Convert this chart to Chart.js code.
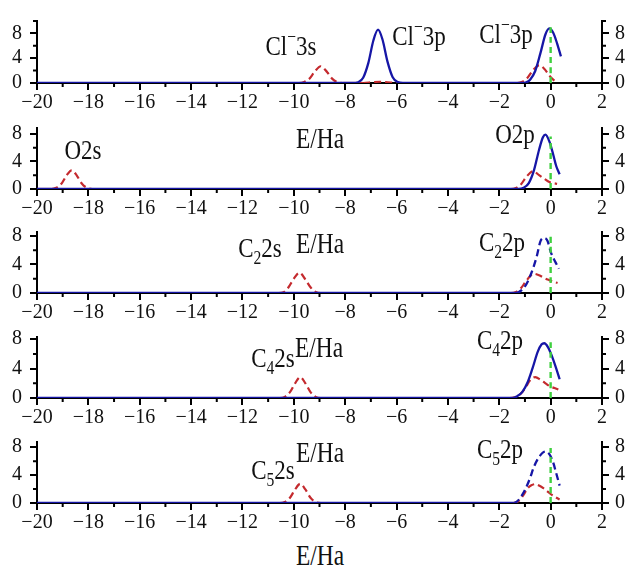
<!DOCTYPE html>
<html><head><meta charset="utf-8">
<script src="https://cdn.jsdelivr.net/npm/chart.js@4.4.0/dist/chart.umd.min.js"></script>
<style>
html,body{margin:0;padding:0;background:#fff;}
#wrap{position:relative;width:640px;height:572px;overflow:hidden;background:#fff;}
canvas{position:absolute;left:0;}
.lb{position:absolute;font-family:"Liberation Serif","DejaVu Serif",serif;font-size:25px;color:#111;white-space:nowrap;transform:translate(-50%,-50%) scale(0.92,1.12);line-height:1;z-index:5;}
.lb .sp{font-size:17px;position:relative;top:-10px;}
.lb .sb{font-size:17px;position:relative;top:7px;}
.ax{font-size:26px;transform:translate(-50%,-50%) scale(0.9,1.12);}
</style></head>
<body><div id="wrap">
<div class="lb" style="left:291px;top:45px">Cl<span class="sp">−</span>3s</div>
<div class="lb" style="left:419px;top:35px">Cl<span class="sp">−</span>3p</div>
<div class="lb" style="left:506px;top:33px">Cl<span class="sp">−</span>3p</div>
<div class="lb" style="left:83px;top:149px">O2s</div>
<div class="lb ax" style="left:320px;top:139px">E/Ha</div>
<div class="lb" style="left:515px;top:133px">O2p</div>
<div class="lb" style="left:260px;top:247px">C<span class="sb">2</span>2s</div>
<div class="lb ax" style="left:320px;top:244px">E/Ha</div>
<div class="lb" style="left:502px;top:241px">C<span class="sb">2</span>2p</div>
<div class="lb" style="left:273px;top:357px">C<span class="sb">4</span>2s</div>
<div class="lb ax" style="left:319px;top:348px">E/Ha</div>
<div class="lb" style="left:500px;top:339px">C<span class="sb">4</span>2p</div>
<div class="lb" style="left:273px;top:469px">C<span class="sb">5</span>2s</div>
<div class="lb ax" style="left:320px;top:453px">E/Ha</div>
<div class="lb" style="left:500px;top:448px">C<span class="sb">5</span>2p</div>
<div class="lb ax" style="left:320px;top:556px">E/Ha</div>
</div>
<script>
// ---- data ----
const xTicks = [-20,-18,-16,-14,-12,-10,-8,-6,-4,-2,0,2];
const xTickLabels = ['−20','−18','−16','−14','−12','−10','−8','−6','−4','−2','0','2'];
const xMinor = [-19,-17,-15,-13,-11,-9,-7,-5,-3,-1,1];
const yTicks = [0,4,8];
const yTickLabels = ['0','4','8'];
const yMinor = [2,6,10];

// Cl- panel
const clBlueE = [-20,-7.7,-7.5,-7.3,-7.1,-6.9,-6.72,-6.55,-6.35,-6.15,-5.95,-5.75,-1.1,-0.95,-0.8,-0.6,-0.4,-0.2,-0.05,0.1,0.25,0.4];
const clBlueD = [0,0,0.13,0.85,3.2,6.9,8.6,7.05,3.4,0.93,0.15,0,0,0.1,0.53,1.94,4.77,7.86,8.8,8.1,6.4,4.3];
const clRedE = [-20,-9.8,-9.6,-9.4,-9.2,-8.95,-8.7,-8.5,-8.3,-8.1,-7.3,-6.95,-6.65,-6.35,-6.0,-1.3,-1.1,-0.9,-0.7,-0.44,-0.25,-0.05,0.1,0.25];
const clRedD = [0,0,0.15,0.67,1.75,2.7,1.75,0.67,0.15,0,0,0.12,0.2,0.12,0,0,0.2,0.85,2.0,2.85,2.3,1.2,0.55,0.1];
// O panel
const oBlueE = [-20,-1.25,-1.05,-0.85,-0.65,-0.45,-0.3,-0.2,-0.05,0.1,0.22,0.35];
const oBlueD = [0,0,0.18,0.86,2.7,5.7,7.5,7.9,6.9,5.0,3.3,2.15];
const oRedE = [-20,-19.45,-19.25,-19.05,-18.85,-18.65,-18.45,-18.25,-18.05,-17.85,-1.55,-1.35,-1.15,-0.95,-0.68,-0.45,-0.25,-0.05,0.1,0.25];
const oRedD = [0,0,0.17,0.75,1.95,2.7,1.95,0.75,0.17,0,0,0.15,0.7,1.75,2.6,2.0,1.5,1.0,0.85,0.75];
// C2 panel
const c2BlueE = [-20,-1.35,-1.15,-0.95,-0.75,-0.55,-0.38,-0.25,-0.12,0.0,0.12,0.22,0.32];
const c2BlueD = [0,0,0.35,1.2,2.8,5.0,7.4,7.7,7.3,5.8,4.8,4.1,3.4];
const c2RedE = [-20,-10.6,-10.4,-10.2,-10.0,-9.78,-9.55,-9.35,-9.15,-8.95,-1.55,-1.35,-1.15,-0.95,-0.66,-0.45,-0.25,-0.05,0.1,0.27];
const c2RedD = [0,0,0.12,0.84,2.0,2.85,1.9,0.8,0.15,0,0,0.15,0.7,1.7,2.7,2.5,2.1,1.8,1.6,1.4];
// C4 panel
const c4BlueE = [-20,-1.5,-1.3,-1.1,-0.9,-0.7,-0.5,-0.35,-0.25,-0.1,0.05,0.2,0.35];
const c4BlueD = [0,0,0.25,0.83,2.1,4.1,6.3,7.3,7.45,6.9,5.7,4.2,2.55];
const c4RedE = [-20,-10.55,-10.35,-10.15,-9.95,-9.75,-9.55,-9.35,-9.15,-8.95,-1.6,-1.4,-1.2,-1.0,-0.8,-0.6,-0.4,-0.2,0.0,0.15,0.3];
const c4RedD = [0,0,0.15,0.8,2.0,2.85,2.0,0.8,0.15,0,0,0.1,0.45,1.3,2.4,2.85,2.5,2.0,1.55,1.35,1.15];
// C5 panel
const c5BlueE = [-20,-1.45,-1.3,-1.1,-0.92,-0.8,-0.66,-0.45,-0.2,-0.05,0.1,0.2,0.35];
const c5BlueD = [0,0,0.25,1.2,2.5,3.6,5.1,6.6,7.4,7.0,5.8,4.5,2.5];
const c5RedE = [-20,-10.55,-10.35,-10.15,-9.95,-9.75,-9.55,-9.35,-9.15,-8.95,-1.45,-1.2,-1.05,-0.9,-0.75,-0.6,-0.45,-0.27,-0.1,0.05,0.2,0.35];
const c5RedD = [0,0,0.15,0.75,1.95,2.75,1.95,0.75,0.15,0,0,0.45,1.2,2.1,2.55,2.7,2.5,2.1,1.6,1.15,0.8,0.5];

const fermiTops = [9.0,7.6,7.9,7.6,7.9];
const yMaxes = [10,8.85,8.55,8.3,8.75];

// ---- layout / style ----
const zeroLines = [83,189,293,398,503];
const plotH = [74,73,73,73,73];
const padTop = 8, axisH = 32;
const BLUE = '#1616a6', RED = '#c42a2e', GREEN = '#3fd03f';
const DASH = [7,4];
const tickFont = {family:'"Liberation Serif","DejaVu Serif",serif', size:20};

const panels = [
  {be:clBlueE, bd:clBlueD, re:clRedE, rd:clRedD, blueDashed:false},
  {be:oBlueE, bd:oBlueD, re:oRedE, rd:oRedD, blueDashed:false},
  {be:c2BlueE, bd:c2BlueD, re:c2RedE, rd:c2RedD, blueDashed:true},
  {be:c4BlueE, bd:c4BlueD, re:c4RedE, rd:c4RedD, blueDashed:false},
  {be:c5BlueE, bd:c5BlueD, re:c5RedE, rd:c5RedD, blueDashed:true}
];

function pts(E, D){ return E.map((e,i)=>({x:e, y:D[i]})); }
function dashSeg(dash){
  return ctx => (ctx.p0.parsed.y === 0 && ctx.p1.parsed.y === 0) ? [] : dash;
}

const minorTicks = {
  id:'minorTicks',
  afterDraw(chart){
    const ctx = chart.ctx, xs = chart.scales.x, yl = chart.scales.y, yr = chart.scales.y2;
    ctx.save();
    ctx.strokeStyle = '#000'; ctx.lineWidth = 2;
    ctx.beginPath();
    xMinor.forEach(v=>{
      const px = xs.getPixelForValue(v);
      ctx.moveTo(px, yl.bottom); ctx.lineTo(px, yl.bottom + 4);
    });
    yMinor.forEach(v=>{
      if (v > yl.max + 1e-9) return;
      const py = yl.getPixelForValue(v);
      ctx.moveTo(yl.right, py); ctx.lineTo(yl.right - 4, py);
      ctx.moveTo(yr.left, py); ctx.lineTo(yr.left + 4, py);
    });
    ctx.stroke();
    ctx.restore();
  }
};

function yScale(pos, max, w){
  return {
    type:'linear', position:pos, min:0, max:max,
    afterBuildTicks: s => { s.ticks = yTicks.filter(v=>v<=max).map(v=>({value:v})); },
    afterFit: s => { s.width = w; },
    ticks:{font:tickFont, color:'#111', padding: pos==='left'?8:6, callback:(v,i)=>yTickLabels[yTicks.indexOf(v)]},
    grid:{drawOnChartArea:false, tickLength:7, color:'#000', lineWidth:2},
    border:{display:true, color:'#000', width:2}
  };
}

const wrap = document.getElementById('wrap');
panels.forEach((p, i) => {
  const H = plotH[i];
  const c = document.createElement('canvas');
  c.width = 640; c.height = padTop + H + axisH;
  c.style.top = (zeroLines[i] - H - padTop) + 'px';
  wrap.appendChild(c);
  const datasets = [
    {data:[{x:0,y:0},{x:0,y:fermiTops[i]}], borderColor:GREEN, borderWidth:2.4, borderDash:[6,4], pointRadius:0, tension:0},
    {data:pts(p.be,p.bd), borderColor:BLUE, borderWidth:2.3, pointRadius:0,
      segment: p.blueDashed ? {borderDash: dashSeg(DASH)} : undefined},
    {data:pts(p.re,p.rd), borderColor:RED, borderWidth:2.2, pointRadius:0,
      segment:{borderDash: dashSeg(DASH)}}
  ];
  new Chart(c, {
    type:'line',
    data:{datasets},
    options:{
      responsive:false, animation:false, devicePixelRatio:1,
      layout:{padding:{top:padTop,left:0,right:0,bottom:0}},
      plugins:{legend:{display:false}, tooltip:{enabled:false}},
      elements:{line:{tension:0.4, cubicInterpolationMode:'monotone', fill:false}, point:{radius:0}},
      scales:{
        x:{
          type:'linear', min:-20, max:2,
          afterBuildTicks: s => { s.ticks = xTicks.map(v=>({value:v})); },
          afterFit: s => { s.height = axisH; },
          ticks:{font:tickFont, color:'#111', padding:1, maxRotation:0, autoSkip:false,
                 callback:(v)=>xTickLabels[xTicks.indexOf(v)]},
          grid:{drawOnChartArea:false, tickLength:7, color:'#000', lineWidth:2},
          border:{display:true, color:'#000', width:2}
        },
        y: yScale('left', yMaxes[i], 37),
        y2: yScale('right', yMaxes[i], 38)
      }
    },
    plugins:[minorTicks]
  });
});
</script>
</body></html>
